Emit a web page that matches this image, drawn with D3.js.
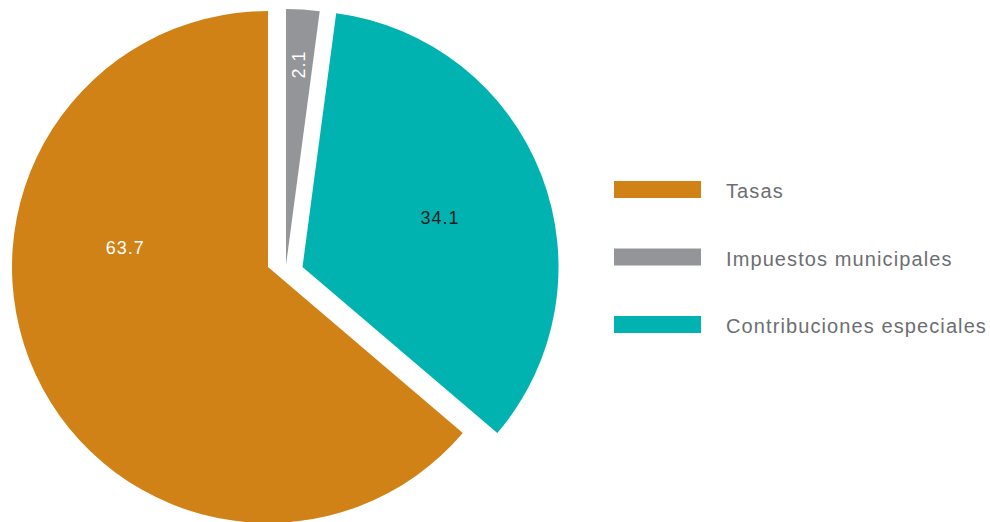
<!DOCTYPE html>
<html>
<head>
<meta charset="utf-8">
<script src="https://cdn.jsdelivr.net/npm/d3@7"></script>
<style>
  html, body { margin: 0; padding: 0; background: #ffffff; }
  svg { display: block; }
  text { font-family: "Liberation Sans", Arial, Helvetica, sans-serif; }
</style>
</head>
<body>
<svg id="chart" width="990" height="522"></svg>
<script>
// Revenue composition (%)
const categories = ["Tasas", "Impuestos municipales", "Contribuciones especiales"];
const values = [63.7, 2.1, 34.1];
const valueLabels = ["63.7", "2.1", "34.1"];
const colors = ["#d08216", "#939598", "#00b2b0"];

// Layout
const W = 990, H = 522;
const center = { x: 268, y: 267 };
const radius = 256;
// Each slice is pulled apart from the others by a small translation
const sliceShift = [[0, 0], [18, -2], [34.5, 0]];
// Value-label placement: angle (deg, clockwise from 12 o'clock; null = slice bisector) and radius fraction
const labelPlace = [
  { deg: -82.4, rf: 0.5625, rotate: 0, fill: "#ffffff" },
  { deg: null, rf: 0.785, rotate: -90, fill: "#ffffff" },
  { deg: 70.4, rf: 0.57, rotate: 0, fill: "#231f20" }
];

const svg = d3.select("#chart");
const total = d3.sum(values);
const start = -2 * Math.PI * values[0] / total;

const pie = d3.pie().sort(null).value(d => d)
  .startAngle(start).endAngle(start + 2 * Math.PI);
const arcs = pie(values);
const arc = d3.arc().innerRadius(0).outerRadius(radius);

const g = svg.append("g").attr("transform", `translate(${center.x},${center.y})`);

const slice = g.selectAll("g.slice").data(arcs).enter().append("g")
  .attr("class", "slice")
  .attr("transform", (d, i) => `translate(${sliceShift[i][0]},${sliceShift[i][1]})`);

slice.append("path")
  .attr("d", arc)
  .attr("fill", (d, i) => colors[i]);

slice.append("text")
  .attr("transform", (d, i) => {
    const p = labelPlace[i];
    const a = p.deg === null ? (d.startAngle + d.endAngle) / 2 : p.deg * Math.PI / 180;
    const r = radius * p.rf;
    const x = r * Math.sin(a), y = -r * Math.cos(a);
    return `translate(${x},${y}) rotate(${p.rotate})`;
  })
  .attr("text-anchor", "middle")
  .attr("dominant-baseline", "central")
  .attr("font-size", 18)
  .attr("letter-spacing", 1)
  .attr("fill", (d, i) => labelPlace[i].fill)
  .text((d, i) => valueLabels[i]);

// Legend
const legendY = d3.scalePoint().domain(categories).range([181, 316]);
const legend = svg.append("g");
const item = legend.selectAll("g").data(categories).enter().append("g")
  .attr("transform", d => `translate(614,${legendY(d)})`);
item.append("rect")
  .attr("width", 87).attr("height", 17)
  .attr("fill", (d, i) => colors[i]);
item.append("text")
  .attr("x", 112).attr("y", 17.3)
  .attr("font-size", 20)
  .attr("letter-spacing", 1.1)
  .attr("fill", "#6d6e71")
  .text(d => d);
</script>
</body>
</html>
